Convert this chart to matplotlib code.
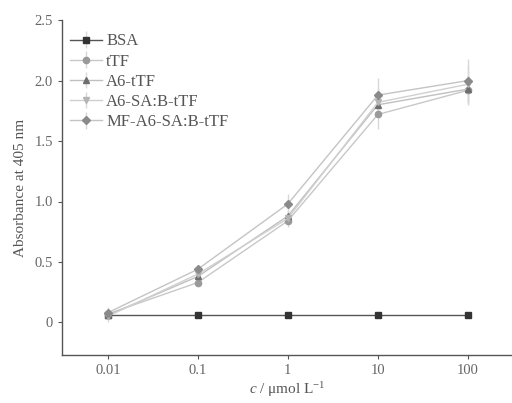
import numpy as np
import matplotlib
matplotlib.use("Agg")
import matplotlib.pyplot as plt

plt.rcParams['font.family'] = ['Liberation Serif', 'DejaVu Serif']
plt.rcParams['mathtext.fontset'] = 'custom'
plt.rcParams['mathtext.rm'] = 'Liberation Serif'
plt.rcParams['mathtext.it'] = 'Liberation Serif:italic'

conc = [0.01, 0.1, 1, 10, 100]
labels = ["BSA", "tTF", "A6-tTF", "A6-SA:B-tTF", "MF-A6-SA:B-tTF"]

bsa = [0.06, 0.06, 0.06, 0.06, 0.06]
ttf = [0.07, 0.33, 0.84, 1.72, 1.92]
a6 = [0.06, 0.38, 0.88, 1.80, 1.93]
a6sab = [0.05, 0.40, 0.86, 1.82, 1.97]
mfa6 = [0.08, 0.44, 0.98, 1.88, 2.00]

bsa_err = [0.01, 0.01, 0.01, 0.01, 0.01]
ttf_err = [0.04, 0.03, 0.05, 0.12, 0.12]
a6_err = [0.04, 0.03, 0.05, 0.10, 0.12]
a6sab_err = [0.05, 0.03, 0.05, 0.12, 0.15]
mfa6_err = [0.05, 0.03, 0.08, 0.14, 0.18]

series = [bsa, ttf, a6, a6sab, mfa6]
errs = [bsa_err, ttf_err, a6_err, a6sab_err, mfa6_err]
markers = ["s", "o", "^", "v", "D"]
mcolors = ["#333333", "#9a9a9a", "#6e6e6e", "#b4b4b4", "#8a8a8a"]
lcolors = ["#555555", "#c8c8c8", "#c0c0c0", "#d0d0d0", "#c4c4c4"]
msizes = [4.5, 4.5, 4.5, 4.5, 4.5]

fig = plt.figure(figsize=(5.12, 4.03), dpi=100)
ax = fig.add_axes([0.121, 0.119, 0.879, 0.831])

for y, e, m, mc, lc, ms, lab in zip(series, errs, markers, mcolors, lcolors, msizes, labels):
    ax.errorbar(conc, y, yerr=e, marker=m, color=lc, mfc=mc, mec=mc, ms=ms,
                lw=1.0, ecolor="#d8d8d8", elinewidth=1, capsize=0, label=lab)

ax.set_xscale("log")
ax.set_xlim(10 ** -2.51, 10 ** 2.49)
ax.set_ylim(-0.27, 2.5)
ax.set_xticks(conc)
ax.set_xticklabels(["0.01", "0.1", "1", "10", "100"])
ax.minorticks_off()
ax.set_yticks([0, 0.5, 1.0, 1.5, 2.0, 2.5])
ax.set_yticklabels(["0", "0.5", "1.0", "1.5", "2.0", "2.5"])

for s in ["top", "right"]:
    ax.spines[s].set_visible(False)
for s in ["left", "bottom"]:
    ax.spines[s].set_color("#555555")
    ax.spines[s].set_linewidth(1.0)
ax.tick_params(axis="both", colors="#555555", labelcolor="#666666", labelsize=10.5,
               length=3, direction="out")

ax.set_xlabel(r"$c$ / μmol L$^{-1}$", fontsize=11, color="#555555", labelpad=2)
ax.set_ylabel("Absorbance at 405 nm", fontsize=11, color="#555555", labelpad=5)

leg = ax.legend(loc="upper left", bbox_to_anchor=(-0.015, 1.005), frameon=False,
                fontsize=12, handlelength=1.9, labelspacing=0.25, handletextpad=0.25,
                labelcolor="#555555")

fig.savefig("out.png", dpi=100)
